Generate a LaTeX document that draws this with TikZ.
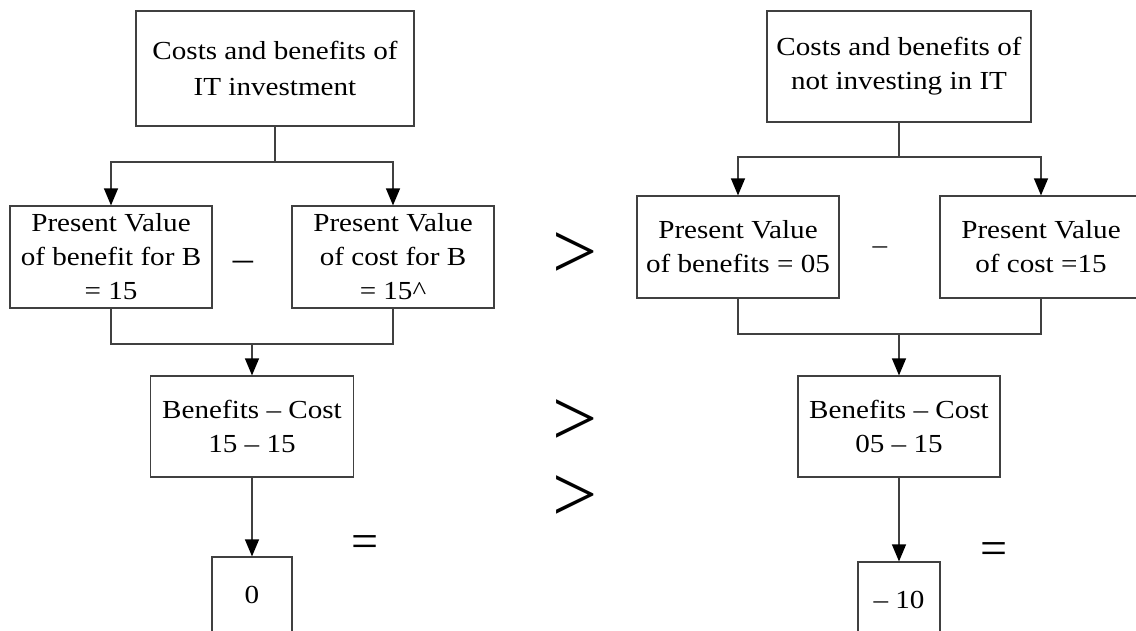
\documentclass[tikz,border=0pt]{standalone}
\usepackage{fontspec}
\setmainfont{Liberation Serif}
\newfontfamily\boxfont{Liberation Serif}[FakeStretch=1.12,Ligatures=TeX]
\usetikzlibrary{arrows.meta}
\definecolor{linegray}{HTML}{404040}
\begin{document}
\begin{tikzpicture}[x=1pt,y=-1pt,
  box/.style={draw=linegray, line width=1.2pt, align=center, inner sep=0pt,
              font=\boxfont\fontsize{26}{34}\selectfont},
  link/.style={draw=linegray, line width=1.2pt},
  arr/.style={link, -{Triangle[length=17pt,width=14pt,color=black]}},
  rel/.style={inner sep=0pt, anchor=base},
  bigrel/.style={rel, font=\fontsize{80}{80}\selectfont},
  eqrel/.style={rel, font=\fontsize{48}{48}\selectfont},
  dashsign/.style={inner sep=0pt}]
\useasboundingbox (0,0) rectangle (1136,630);
\clip (0,0) rectangle (1136,630);

% left column: investing in IT
\node[box, minimum width=278pt, minimum height=115pt,
      font=\boxfont\fontsize{26}{36}\selectfont] (tl) at (275,68.5)
  {Costs and benefits of\\IT investment};
\node[box, minimum width=202pt, minimum height=102pt] (a) at (111,257)
  {Present Value\\of benefit for B\\= 15};
\node[box, minimum width=202pt, minimum height=102pt] (b) at (393,257)
  {Present Value\\of cost for B\\= 15\textasciicircum};
\node[box, minimum width=203pt, minimum height=101pt] (m1) at (252,426.5)
  {Benefits -- Cost\\15 -- 15};
\node[box, minimum width=80pt, minimum height=76pt] (z1) at (252,595) {0};

% right column: not investing in IT
\node[box, minimum width=264pt, minimum height=111pt] (tr) at (899,66.5)
  {Costs and benefits of\\not investing in IT};
\node[box, minimum width=202pt, minimum height=102pt] (c) at (738,247)
  {Present Value\\of benefits = 05};
\node[box, minimum width=202pt, minimum height=102pt] (d) at (1041,247)
  {Present Value\\of cost =15};
\node[box, minimum width=202pt, minimum height=101pt] (m2) at (899,426.5)
  {Benefits -- Cost\\05 -- 15};
\node[box, minimum width=82pt, minimum height=76pt] (z2) at (899,600) {-- 10};

% junction points
\coordinate (j1) at (275,162);
\coordinate (j2) at (252,344);
\coordinate (j3) at (899,157);
\coordinate (j4) at (899,334);

% left connectors
\draw[link] (tl.south) -- (j1);
\draw[arr] (j1) -| (a.north);
\draw[arr] (j1) -| (b.north);
\draw[link] (a.south) |- (j2);
\draw[link] (b.south) |- (j2);
\draw[arr] (j2) -- (m1.north);
\draw[arr] (m1.south) -- (z1.north);

% right connectors
\draw[link] (tr.south) -- (j3);
\draw[arr] (j3) -| (c.north);
\draw[arr] (j3) -| (d.north);
\draw[link] (c.south) |- (j4);
\draw[link] (d.south) |- (j4);
\draw[arr] (j4) -- (m2.north);
\draw[arr] (m2.south) -- (z2.north);

% operators between the boxes
\node[dashsign, font=\boxfont\fontsize{36}{36}\selectfont] (minus1) at (243,266) {--};
\node[dashsign, font=\boxfont\fontsize{26}{26}\selectfont] (minus2) at (880,250) {--};
\node[bigrel] (gt1) at (575,278) {>};
\node[bigrel] (gt2) at (575,445) {>};
\node[bigrel] (gt3) at (575,521) {>};
\node[eqrel] (eq1) at (365,557) {=};
\node[eqrel] (eq2) at (994,564) {=};
\end{tikzpicture}
\end{document}
